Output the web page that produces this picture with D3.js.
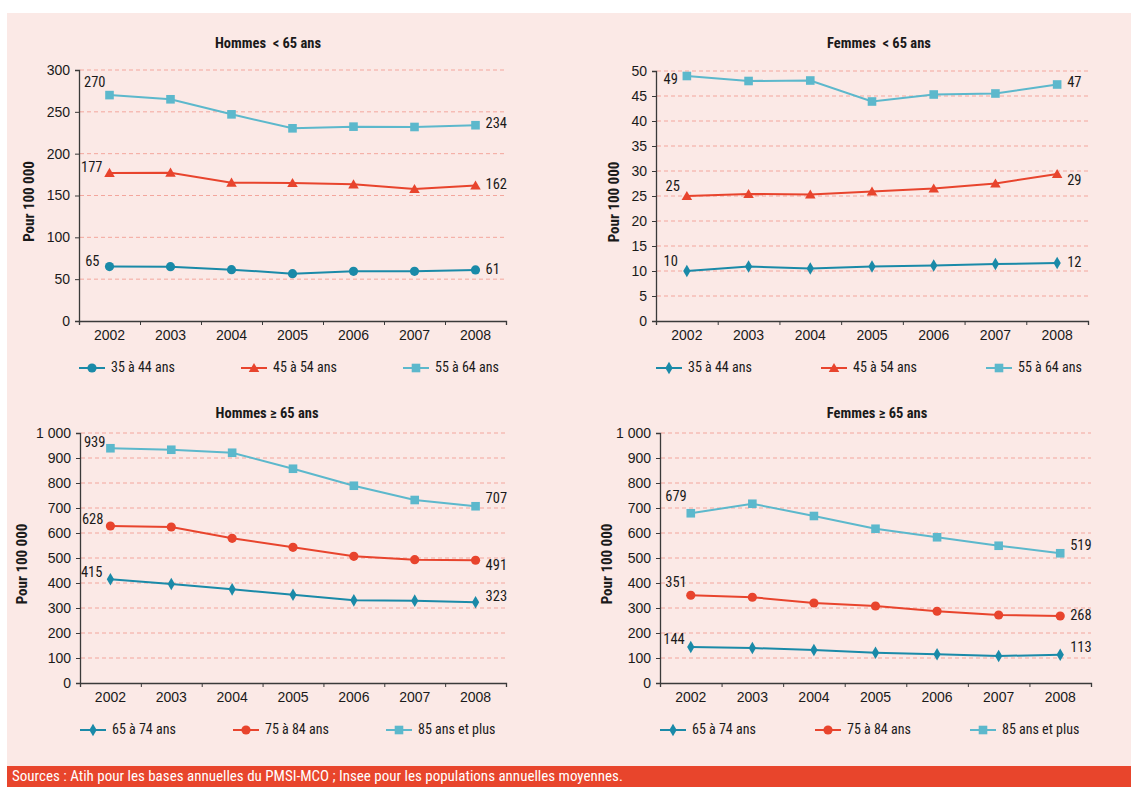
<!DOCTYPE html>
<html>
<head>
<meta charset="utf-8">
<script src="https://cdn.jsdelivr.net/npm/d3@7"></script>
<style>
  body { margin: 0; background: #ffffff; }
  svg { display: block; font-family: "Liberation Sans Narrow", "Roboto Condensed", "Liberation Sans", sans-serif; }
  .tick text { font-size: 14px; fill: #1a1a1a; }
  .title { font-size: 14.5px; font-weight: bold; white-space: pre; }
</style>
</head>
<body>
<div class="chart"></div>
<script>
// Data
var years = ["2002", "2003", "2004", "2005", "2006", "2007", "2008"];

var hommesJeunes_35_44 = [65, 64.9, 61.4, 56.6, 59.4, 59.4, 61];
var hommesJeunes_45_54 = [177, 177.3, 165.3, 164.9, 163.3, 157.8, 162];
var hommesJeunes_55_64 = [270, 265, 247, 230.3, 232.3, 231.9, 234];

var femmesJeunes_35_44 = [10, 10.9, 10.5, 10.9, 11.1, 11.4, 11.6];
var femmesJeunes_45_54 = [25, 25.4, 25.3, 25.9, 26.5, 27.5, 29.4];
var femmesJeunes_55_64 = [49, 48, 48.1, 43.9, 45.3, 45.5, 47.3];

var hommesAges_65_74 = [415, 396, 374.7, 353, 330.7, 329.3, 323];
var hommesAges_75_84 = [628, 624, 578.7, 542.7, 506.7, 493.3, 491];
var hommesAges_85 = [939, 933, 921, 857, 789, 732, 707];

var femmesAges_65_74 = [144, 140, 132, 121, 115, 108, 113];
var femmesAges_75_84 = [351, 343, 320, 308, 287, 272, 268];
var femmesAges_85 = [679, 717, 668, 617, 583, 549, 519];

var ticksJeunesH = [0, 50, 100, 150, 200, 250, 300];
var ticksJeunesF = [0, 5, 10, 15, 20, 25, 30, 35, 40, 45, 50];
var ticksAges = [0, 100, 200, 300, 400, 500, 600, 700, 800, 900, 1000];

var legendJeunes = ["35 à 44 ans", "45 à 54 ans", "55 à 64 ans"];
var legendAges = ["65 à 74 ans", "75 à 84 ans", "85 ans et plus"];

var sourceText = "Sources : Atih pour les bases annuelles du PMSI-MCO ; Insee pour les populations annuelles moyennes.";

// Styles
var teal = "#1a8aa8";
var red = "#e8442d";
var light = "#5cb8cc";
var gridColor = "#f3a69d";

// layout per panel (label nudges: first label dx/dy, last label dy)
var panels = [
  { title: "Hommes  < 65 ans", ticks: ticksJeunesH, names: legendJeunes,
    series: [hommesJeunes_35_44, hommesJeunes_45_54, hommesJeunes_55_64],
    colors: [teal, red, light], shapes: ["circle", "triangle", "square"],
    firstDx: [-10, -7, -4], firstDy: [-4, -5, -12], lastDy: [0, 0, -1],
    x0: 79, x1: 506, yTop: 70, yBot: 321, titleX: 268, titleY: 44, yLabX: 30, legY: 368, legStep: 162 },
  { title: "Femmes  < 65 ans", ticks: ticksJeunesF, names: legendJeunes,
    series: [femmesJeunes_35_44, femmesJeunes_45_54, femmesJeunes_55_64],
    colors: [teal, red, light], shapes: ["diamond", "triangle", "square"],
    firstDx: [-9, -7, -9], firstDy: [-9, -9, 4], lastDy: [0, 7, -1],
    x0: 656, x1: 1088, yTop: 71, yBot: 321, titleX: 879, titleY: 44, yLabX: 615, legY: 368, legStep: 165 },
  { title: "Hommes ≥ 65 ans", ticks: ticksAges, names: legendAges,
    series: [hommesAges_65_74, hommesAges_75_84, hommesAges_85],
    colors: [teal, red, light], shapes: ["diamond", "circle", "square"],
    firstDx: [-8, -7, -5], firstDy: [-6, -6, -5], lastDy: [-5, 6, -7],
    x0: 80, x1: 506, yTop: 433, yBot: 683, titleX: 267, titleY: 414, yLabX: 23, legY: 730, legStep: 153 },
  { title: "Femmes ≥ 65 ans", ticks: ticksAges, names: legendAges,
    series: [femmesAges_65_74, femmesAges_75_84, femmesAges_85],
    colors: [teal, red, light], shapes: ["diamond", "circle", "square"],
    firstDx: [-6, -4, -4], firstDy: [-7, -12, -16], lastDy: [-7, 0, -7],
    x0: 660, x1: 1091, yTop: 433, yBot: 683, titleX: 877, titleY: 414, yLabX: 608, legY: 730, legStep: 155 }
];

var svgWidth = 1131;
var svgHeight = 787;

var svg = d3.select(".chart")
  .append("svg")
  .attr("width", svgWidth)
  .attr("height", svgHeight);

// background + footer
svg.append("rect")
  .attr("x", 7).attr("y", 13)
  .attr("width", svgWidth - 7).attr("height", svgHeight - 13)
  .attr("fill", "#fbe9e6");

svg.append("rect")
  .attr("x", 7).attr("y", 766)
  .attr("width", svgWidth - 7).attr("height", 21)
  .attr("fill", "#e8452c");

svg.append("text")
  .attr("x", 12).attr("y", 781)
  .attr("fill", "#ffffff")
  .attr("font-size", "15px")
  .text(sourceText);

var fr = d3.formatLocale({ decimal: ",", thousands: "\u00a0", grouping: [3], currency: ["", " €"] });
var fmt = fr.format(",d");

function marker(g, shape, color, cx, cy) {
  if (shape === "circle") {
    g.append("circle").attr("cx", cx).attr("cy", cy).attr("r", 4.6).attr("fill", color);
  } else if (shape === "square") {
    g.append("rect").attr("x", cx - 4.3).attr("y", cy - 4.3).attr("width", 8.6).attr("height", 8.6).attr("fill", color);
  } else {
    var sym = shape === "triangle" ? d3.symbolTriangle : d3.symbolDiamond;
    var size = shape === "triangle" ? 48 : 46;
    g.append("path")
      .attr("d", d3.symbol().type(sym).size(size))
      .attr("transform", `translate(${cx}, ${cy + (shape === "triangle" ? 1 : 0)})`)
      .attr("fill", color);
  }
}

panels.forEach(function(p) {
  var g = svg.append("g");
  var maxV = p.ticks[p.ticks.length - 1];

  var xBand = d3.scaleBand().domain(years).range([p.x0, p.x1]);
  var xEdge = d3.scaleLinear().domain([0, years.length]).range([p.x0, p.x1]);
  var y = d3.scaleLinear().domain([0, maxV]).range([p.yBot, p.yTop]);
  var cx = function(i) { return xBand(years[i]) + xBand.bandwidth() / 2; };

  // gridlines
  g.append("g")
    .selectAll("line")
    .data(p.ticks.filter(function(t) { return t > 0; }))
    .enter()
    .append("line")
    .attr("x1", p.x0 + 1).attr("x2", p.x1)
    .attr("y1", d => y(d)).attr("y2", d => y(d))
    .attr("stroke", gridColor)
    .attr("stroke-width", 1)
    .attr("stroke-dasharray", "4,3");

  // y axis
  var leftAxis = d3.axisLeft(y).tickValues(p.ticks).tickSize(4).tickPadding(5).tickFormat(fmt);
  var ya = g.append("g").attr("transform", `translate(${p.x0}, 0)`).call(leftAxis);
  ya.select(".domain").attr("stroke", "#3a3a3a").attr("stroke-width", 1.3);
  ya.selectAll(".tick line").attr("stroke", "#3a3a3a");

  // x axis (edge ticks)
  var edgeAxis = d3.axisBottom(xEdge).tickValues(d3.range(years.length + 1)).tickSize(4).tickFormat("");
  var xa = g.append("g").attr("transform", `translate(0, ${p.yBot})`).call(edgeAxis);
  xa.select(".domain").attr("stroke", "#3a3a3a").attr("stroke-width", 1.3);
  xa.selectAll(".tick line").attr("stroke", "#3a3a3a");

  var bottomAxis = d3.axisBottom(xBand).tickSize(0).tickPadding(9);
  var xl = g.append("g").attr("transform", `translate(0, ${p.yBot})`).call(bottomAxis);
  xl.select(".domain").remove();

  // title
  g.append("text")
    .attr("class", "title")
    .attr("x", p.titleX).attr("y", p.titleY)
    .attr("text-anchor", "middle")
    .attr("dominant-baseline", "middle")
    .attr("fill", "#1a1a1a")
    .text(p.title);

  // y title
  g.append("text")
    .attr("transform", `translate(${p.yLabX}, ${(p.yTop + p.yBot) / 2 + 6}) rotate(-90)`)
    .attr("text-anchor", "middle")
    .attr("dominant-baseline", "middle")
    .attr("font-size", "15px")
    .attr("font-weight", "bold")
    .attr("fill", "#1a1a1a")
    .text("Pour 100 000");

  // series
  var line = d3.line().x((d, i) => cx(i)).y(d => y(d));
  p.series.forEach(function(vals, si) {
    var color = p.colors[si];
    g.append("path")
      .datum(vals)
      .attr("d", line)
      .attr("fill", "none")
      .attr("stroke", color)
      .attr("stroke-width", 2);
    vals.forEach(function(v, i) { marker(g, p.shapes[si], color, cx(i), y(v)); });

    // value labels
    var last = vals.length - 1;
    g.append("text")
      .attr("x", cx(0) + p.firstDx[si]).attr("y", y(vals[0]) + p.firstDy[si])
      .attr("text-anchor", "end")
      .attr("dominant-baseline", "middle")
      .attr("font-size", "14.5px")
      .attr("fill", "#1a1a1a")
      .text(fmt(Math.round(vals[0])));
    g.append("text")
      .attr("x", cx(last) + 10).attr("y", y(vals[last]) + p.lastDy[si])
      .attr("text-anchor", "start")
      .attr("dominant-baseline", "middle")
      .attr("font-size", "14.5px")
      .attr("fill", "#1a1a1a")
      .text(fmt(Math.round(vals[last])));

    // legend
    var lx = p.x0 + si * p.legStep;
    g.append("line")
      .attr("x1", lx).attr("x2", lx + 26)
      .attr("y1", p.legY).attr("y2", p.legY)
      .attr("stroke", color).attr("stroke-width", 2);
    marker(g, p.shapes[si], color, lx + 13, p.legY);
    g.append("text")
      .attr("x", lx + 32).attr("y", p.legY)
      .attr("dominant-baseline", "middle")
      .attr("font-size", "14px")
      .attr("fill", "#1a1a1a")
      .text(p.names[si]);
  });
});
</script>
</body>
</html>
